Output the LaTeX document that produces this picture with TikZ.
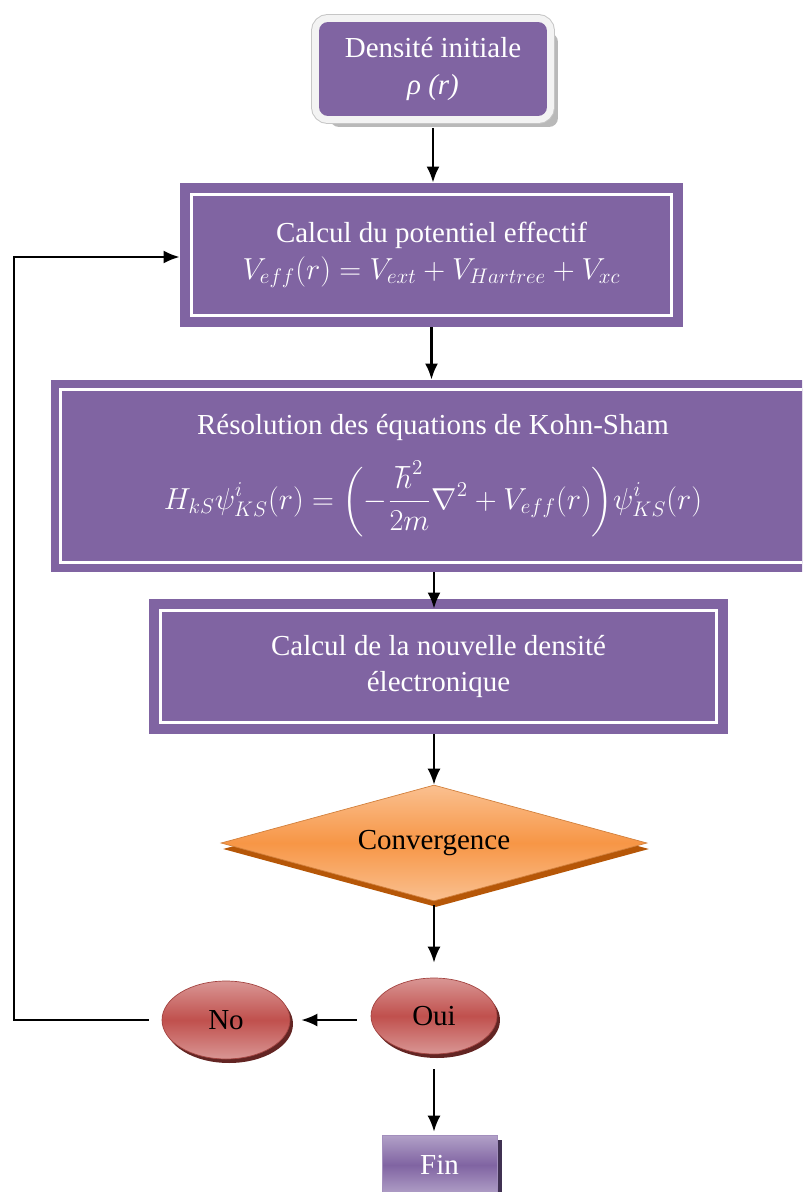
\documentclass[tikz,border=0pt]{standalone}
\usepackage{fontspec}
\setmainfont{Liberation Serif}
\usepackage{amsmath,amssymb}
\usetikzlibrary{shapes.geometric,shadows,arrows.meta}
\definecolor{violetbox}{RGB}{128,100,162}
\definecolor{violetclair}{RGB}{178,161,200}
\definecolor{violetsombre}{RGB}{64,49,82}
\definecolor{cadreblanc}{RGB}{243,243,243}
\definecolor{orangevif}{RGB}{247,150,70}
\definecolor{orangeclair}{RGB}{250,192,144}
\definecolor{orangesombre}{RGB}{182,87,8}
\definecolor{rougevif}{RGB}{192,80,77}
\definecolor{rougeclair}{RGB}{217,150,148}
\definecolor{rougesombre}{RGB}{99,37,35}

\begin{document}
\begin{tikzpicture}[x=0.02cm,y=-0.02cm,
  texte/.style={align=center,font=\fontsize{16.5}{21}\selectfont},
  debut/.style={texte,rectangle,rounded corners=0.18cm,fill=violetbox,text=white,outer sep=0.24cm,
    drop shadow={shadow xshift=0.22cm,shadow yshift=-0.22cm,fill=gray!55,opacity=1},
    preaction={draw=gray!45,line width=0.32cm},preaction={draw=cadreblanc,line width=0.28cm}},
  cadre/.style={texte,rectangle,fill=violetbox,draw=white,line width=0.06cm,text=white,
    preaction={draw=violetbox,line width=2*#1},outer sep=#1},
  losange/.style={texte,diamond,aspect=3.7,inner sep=0pt,draw=orangevif!85!black,
    top color=orangeclair,bottom color=orangeclair,middle color=orangevif,
    drop shadow={shadow xshift=0.04cm,shadow yshift=-0.12cm,fill=orangesombre,opacity=1}},
  bulle/.style={texte,ellipse,draw=rougevif!85!black,
    top color=rougeclair,bottom color=rougeclair,middle color=rougevif,
    drop shadow={shadow xshift=0.06cm,shadow yshift=-0.08cm,fill=rougesombre,opacity=1}},
  fin/.style={texte,rectangle,draw=violetclair!70!violetbox,text=white,
    top color=violetclair,bottom color=violetclair,middle color=violetbox,
    drop shadow={shadow xshift=0.1cm,shadow yshift=-0.1cm,fill=violetsombre,opacity=1}},
  fleche/.style={very thick,->,>={Latex[length=0.32cm,width=0.26cm]}}]
\useasboundingbox (0,0) rectangle (802,1192);
\clip (0,0) rectangle (802,1192);

\node[debut,minimum width=4.56cm,minimum height=1.88cm] (depart) at (433,69) {Densité initiale\\\textit{ρ (r)}};
\node[cadre=0.23cm,minimum width=9.62cm,minimum height=2.44cm] (potentiel) at (431.5,255)
  {Calcul du potentiel effectif\\$V_{eff}(r)=V_{ext}+V_{Hartree}+V_{xc}$};
\node[cadre=0.19cm,minimum width=14.9cm,minimum height=3.48cm] (kohnsham) at (433,476)
  {Résolution des équations de Kohn-Sham\\[11pt]$\displaystyle H_{kS}\psi_{KS}^{i}(r)=\biggl(-\frac{\hbar^{2}}{2m}\nabla^{2}+V_{eff}(r)\biggr)\psi_{KS}^{i}(r)$};
\node[cadre=0.23cm,minimum width=11.14cm,minimum height=2.26cm] (densite) at (438.5,666.5)
  {Calcul de la nouvelle densité\\électronique};
\node[losange,minimum width=8.52cm,minimum height=2.32cm] (convergence) at (434,843) {Convergence};
\node[bulle,minimum width=2.52cm,minimum height=1.52cm] (oui) at (434,1016) {Oui};
\node[bulle,minimum width=2.56cm,minimum height=1.56cm] (non) at (226,1020) {No};
\node[fin,minimum width=2.3cm,minimum height=1.2cm] (fin) at (439.5,1165) {Fin};

\coordinate (coinbas) at (14,1020);
\coordinate (coinhaut) at (14,257);

\draw[fleche] (depart.south) -- (depart.south |- potentiel.north);
\draw[fleche] (potentiel.south) -- (potentiel.south |- kohnsham.north);
\draw[fleche,shorten >=-0.2cm] (kohnsham.south -| convergence.north) -- (densite.north -| convergence.north);
\draw[fleche] (densite.south -| convergence.north) -- (convergence.north);
\draw[fleche,shorten <=0.08cm,shorten >=0.3cm] (convergence.south) -- (oui.north);
\draw[fleche,shorten <=0.28cm,shorten >=0.22cm] (oui.west |- non.east) -- (non.east);
\draw[fleche,shorten <=0.26cm] (non.west) -- (coinbas) -- (coinhaut) -- (coinhaut -| potentiel.west);
\draw[fleche,shorten <=0.3cm,shorten >=0.06cm] (oui.south) -- (oui.south |- fin.north);
\end{tikzpicture}
\end{document}
